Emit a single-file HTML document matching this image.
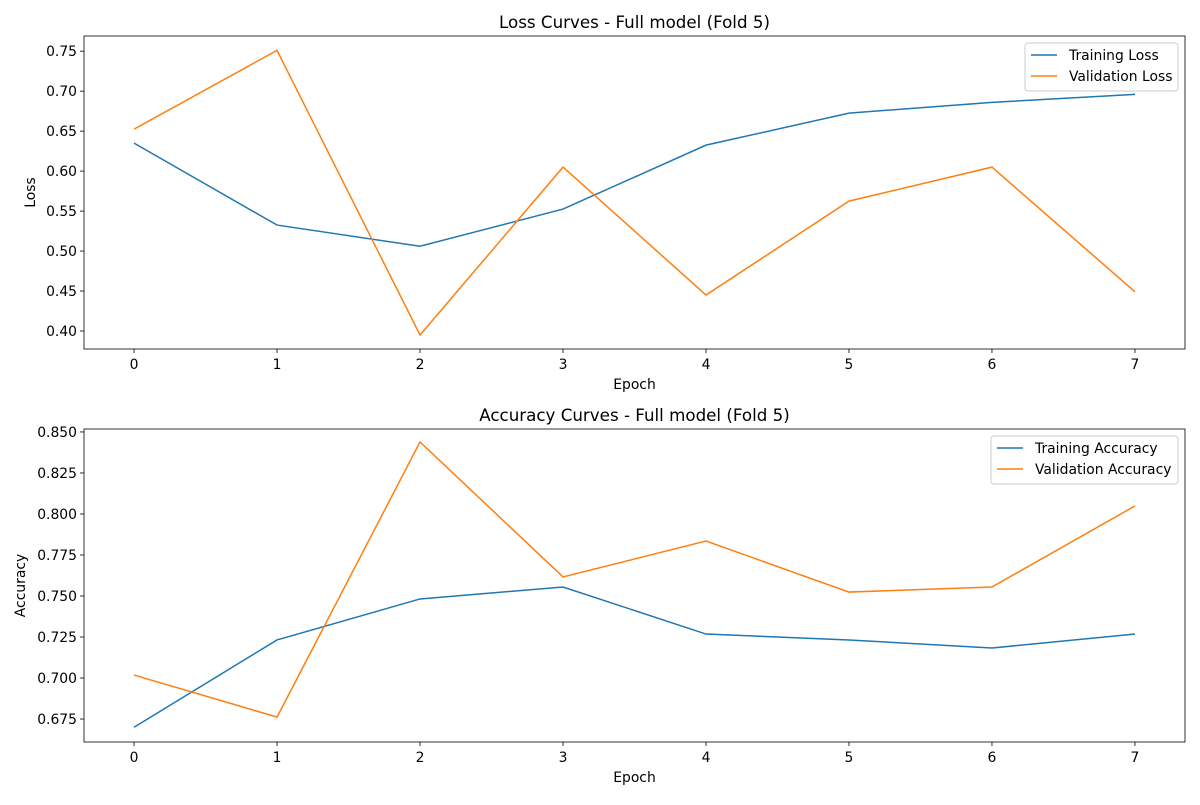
<!DOCTYPE html>
<html><head><meta charset="utf-8"><style>
body{margin:0;background:#fff;font-family:"Liberation Sans","DejaVu Sans",sans-serif}
svg text{font-family:"DejaVu Sans","Liberation Sans",sans-serif;fill:#000}
</style></head><body>
<svg id="c" width="1200" height="800"></svg>
<script>
const epochs=[0,1,2,3,4,5,6,7];
const trainLoss=[0.635,0.5325,0.506,0.5525,0.6325,0.6725,0.686,0.696];
const valLoss=[0.6525,0.751,0.395,0.605,0.445,0.5625,0.605,0.449];
const trainAcc=[0.670,0.7232,0.7482,0.7555,0.7268,0.7232,0.7183,0.7268];
const valAcc=[0.7018,0.6762,0.8439,0.7616,0.7835,0.7524,0.7555,0.8049];
const lossTicks=[0.40,0.45,0.50,0.55,0.60,0.65,0.70,0.75];
const accTicks=[0.675,0.700,0.725,0.750,0.775,0.800,0.825,0.850];
const svg=document.getElementById('c');
const NS='http://www.w3.org/2000/svg';
function mk(t,a,p){const e=document.createElementNS(NS,t);for(const k in a)e.setAttribute(k,a[k]);(p||svg).appendChild(e);return e;}
function panel(o){
 const g=mk('g',{});
 
 
 const L=84,R=1185,T=o.top,B=o.top+313;
 const xs=v=>L+(v-(-0.35))/(7.7)*(R-L);
 const ys=v=>B-(v-o.ymin)/(o.ymax-o.ymin)*(B-T);
 o.ticks.forEach(t=>{const y=ys(t);mk('line',{x1:L-4,x2:L,y1:y,y2:y,stroke:'#000','stroke-width':0.8},g);
  const tx=mk('text',{x:L-7,y:y+5,'text-anchor':'end','font-size':13.9},g);tx.textContent=t.toFixed(o.dec);
  });
 epochs.forEach(e=>{const x=xs(e);mk('line',{x1:x,x2:x,y1:B,y2:B+4,stroke:'#000','stroke-width':0.8},g);
  const tx=mk('text',{x:x,y:B+20,'text-anchor':'middle','font-size':13.9},g);tx.textContent=e;
  });
 [[o.s1,'#1f77b4','training-line'],[o.s2,'#ff7f0e','validation-line']].forEach(([s,c,n])=>{
  const p=mk('polyline',{points:s.map((v,i)=>xs(epochs[i])+','+ys(v)).join(' '),fill:'none',stroke:c,'stroke-width':1.5},g);
  });
 mk('rect',{x:L,y:T,width:R-L,height:B-T,fill:'none',stroke:'#000','stroke-width':0.8},g);
 let t=mk('text',{x:(L+R)/2,y:T-8,'text-anchor':'middle','font-size':16.7},g);t.textContent=o.title;
 
 t=mk('text',{x:(L+R)/2,y:B+40,'text-anchor':'middle','font-size':13.9},g);t.textContent='Epoch';
 
 t=mk('text',{x:0,y:0,'text-anchor':'middle','font-size':13.9,transform:`translate(${o.ylx},${(T+B)/2}) rotate(-90)`},g);t.textContent=o.ylabel;
 
 const lg=mk('g',{},g);
 mk('rect',{x:o.lx,y:T+7,width:R-7-o.lx,height:48,rx:3,fill:'#fff',stroke:'#ccc','stroke-width':1},lg);
 [[o.n1,'#1f77b4'],[o.n2,'#ff7f0e']].forEach(([n,c],i)=>{const y=T+19+i*21;
  mk('line',{x1:o.lx+6,x2:o.lx+32,y1:y,y2:y,stroke:c,'stroke-width':1.5},lg);
  const e=mk('text',{x:o.lx+44,y:y+5,'font-size':13.9},lg);e.textContent=n;
  });
}
panel({name:'loss-panel',top:36,ymin:0.3775,ymax:0.769,ticks:lossTicks,dec:2,s1:trainLoss,s2:valLoss,title:'Loss Curves - Full model (Fold 5)',ylabel:'Loss',ylx:35,lx:1025,n1:'Training Loss',n2:'Validation Loss'});
panel({name:'accuracy-panel',top:429,ymin:0.661,ymax:0.8518,ticks:accTicks,dec:3,s1:trainAcc,s2:valAcc,title:'Accuracy Curves - Full model (Fold 5)',ylabel:'Accuracy',ylx:25,lx:991,n1:'Training Accuracy',n2:'Validation Accuracy'});
</script>
</body></html>
